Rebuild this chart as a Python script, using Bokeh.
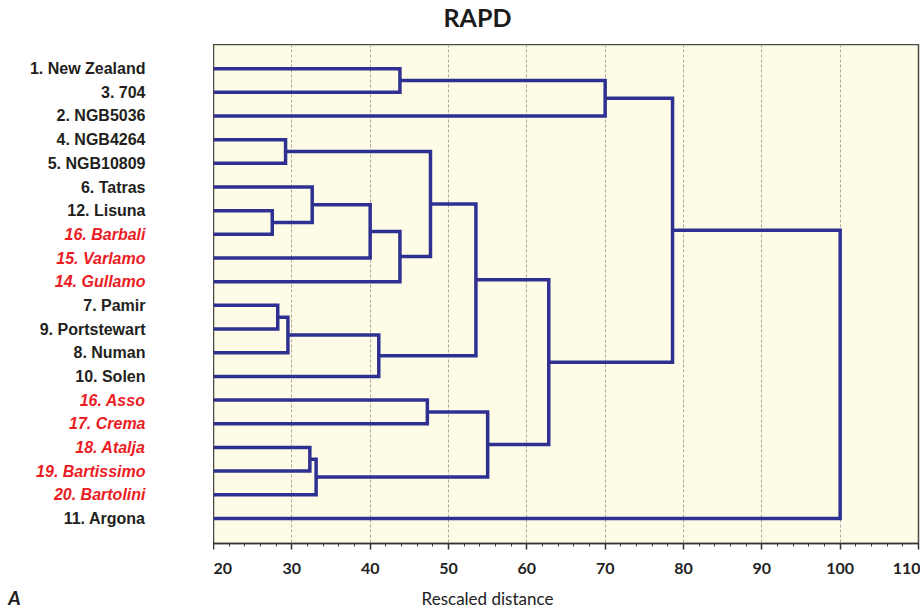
from bokeh.plotting import figure
from bokeh.layouts import row, column
from bokeh.models import Range1d, SingleIntervalTicker, ColumnDataSource
from bokeh.core.properties import value
from bokeh.embed import file_html
from bokeh.resources import INLINE

# Leaves of the RAPD dendrogram, listed top to bottom
leaf_names = ["1. New Zealand", "3. 704", "2. NGB5036", "4. NGB4264",
              "5. NGB10809", "6. Tatras", "12. Lisuna", "16. Barbali",
              "15. Varlamo", "14. Gullamo", "7. Pamir", "9. Portstewart",
              "8. Numan", "10. Solen", "16. Asso", "17. Crema",
              "18. Atalja", "19. Bartissimo", "20. Bartolini", "11. Argona"]
# True for the cultivars written in red italics
leaf_highlight = [False, False, False, False, False, False, False, True,
                  True, True, False, False, False, False, True, True,
                  True, True, True, False]

# Agglomeration steps: nodes 0..19 are leaves, step k creates node 20 + k
merge_a = [6, 10, 3, 21, 16, 5, 24, 25, 23, 0, 27, 14, 22, 32, 31, 33, 29, 36, 37]
merge_b = [7, 11, 4, 12, 17, 20, 18, 8, 13, 1, 9, 15, 30, 28, 26, 34, 2, 35, 19]
merge_height = [27.5, 28.2, 29.2, 29.5, 32.3, 32.6, 33.1, 40.0, 41.1, 43.8,
                43.8, 47.3, 47.7, 53.5, 55.0, 62.8, 70.0, 78.6, 100.0]

x_start, x_end = 20, 110

# Bracket paths of the dendrogram
n = len(leaf_names)
node_x = {i: x_start for i in range(n)}
node_y = {i: i + 1 for i in range(n)}
xs, ys = [], []
for k, (a, b, h) in enumerate(zip(merge_a, merge_b, merge_height)):
    xs.append([node_x[a], h, h, node_x[b]])
    ys.append([node_y[a], node_y[a], node_y[b], node_y[b]])
    node_x[n + k] = h
    node_y[n + k] = (node_y[a] + node_y[b]) / 2

W, H = 920, 612
TOP_H, BOTTOM_H = 44, 28          # title strip and caption strip
LABEL_W = 213                      # width of the leaf-name column
MID_H = H - TOP_H - BOTTOM_H
AXIS_BORDER = 41

y_range = Range1d(21.06, -0.02)


def blank(width, height, **kw):
    f = figure(width=width, height=height, output_backend="svg",
               toolbar_location=None, x_axis_location=None,
               y_axis_location=None, outline_line_color=None,
               min_border_left=0, min_border_right=0, min_border_top=0,
               min_border_bottom=0, background_fill_color="white",
               border_fill_color="white", **kw)
    f.grid.visible = False
    return f


# Title strip (y measured in pixels, from the top of the strip)
top = blank(W, TOP_H, x_range=Range1d(0, W), y_range=Range1d(TOP_H, 0))
top.text(x=[477], y=[16], text=["RAPD"], text_align="center",
         text_baseline="middle", text_font=value("Lato"),
         text_font_style="bold", text_font_size="25px", text_color="#1a1a1a")

# Main dendrogram panel
p = figure(width=W - LABEL_W, height=MID_H,
           x_range=Range1d(x_start, x_end), y_range=y_range,
           output_backend="svg", toolbar_location=None, y_axis_location=None,
           min_border_left=0, min_border_right=2, min_border_top=0,
           min_border_bottom=AXIS_BORDER,
           background_fill_color="#fefce6", border_fill_color="white",
           outline_line_color="#4a4a44", outline_line_width=1.5)

p.multi_line(xs, ys, line_color="#2e3192", line_width=3.5,
             line_join="miter", line_cap="butt")

p.xaxis.ticker = SingleIntervalTicker(interval=10, num_minor_ticks=5)
p.xaxis.axis_line_color = "#333333"
p.xaxis.axis_line_width = 1.5
p.xaxis.major_tick_line_color = "#333333"
p.xaxis.major_tick_line_width = 1.5
p.xaxis.major_tick_in = 0
p.xaxis.major_tick_out = 6
p.xaxis.minor_tick_line_color = "#333333"
p.xaxis.minor_tick_in = 0
p.xaxis.minor_tick_out = 3
p.xaxis.major_label_standoff = 13
p.xaxis.major_label_text_font = "Lato"
p.xaxis.major_label_text_font_style = "bold"
p.xaxis.major_label_text_font_size = "16px"
p.xaxis.major_label_text_color = "#222222"

p.xgrid.grid_line_color = "#a9a9a0"
p.xgrid.grid_line_dash = "3 2"
p.xgrid.grid_line_width = 1
p.ygrid.visible = False

# Leaf-name column sharing the vertical scale of the dendrogram
lab = figure(width=LABEL_W, height=MID_H, x_range=Range1d(0, 1),
             y_range=y_range, output_backend="svg", toolbar_location=None,
             x_axis_location=None, y_axis_location=None,
             min_border_left=0, min_border_right=0, min_border_top=0,
             min_border_bottom=AXIS_BORDER, outline_line_color=None,
             background_fill_color="white", border_fill_color="white")
lab.grid.visible = False

for highlight, color, style in ((False, "#231f20", "bold"),
                                (True, "#ec1c24", "bold italic")):
    rows = [i for i in range(n) if leaf_highlight[i] == highlight]
    src = ColumnDataSource(dict(x=[1] * len(rows),
                                y=[node_y[i] for i in rows],
                                text=[leaf_names[i] for i in rows]))
    lab.text(x="x", y="y", text="text", source=src, x_offset=-68,
             text_align="right", text_baseline="middle",
             text_color=color, text_font_style=style,
             text_font=value("Liberation Sans"), text_font_size="16px")

# Caption strip: panel letter and axis title (y in pixels from its top)
bottom = blank(W, BOTTOM_H, x_range=Range1d(0, W), y_range=Range1d(BOTTOM_H, 0))
bottom.text(x=[14], y=[13], text=["A"], text_align="center",
            text_baseline="middle", text_font=value("Lato"),
            text_font_style="bold italic", text_font_size="19px",
            text_color="#1a1a1a")
bottom.text(x=[487], y=[14], text=["Rescaled distance"], text_align="center",
            text_baseline="middle", text_font=value("Lato"),
            text_font_size="17px", text_color="#222222")

layout = column(top, row(lab, p, spacing=0), bottom, spacing=0)
open("out.html", "w").write(file_html(layout, INLINE))
